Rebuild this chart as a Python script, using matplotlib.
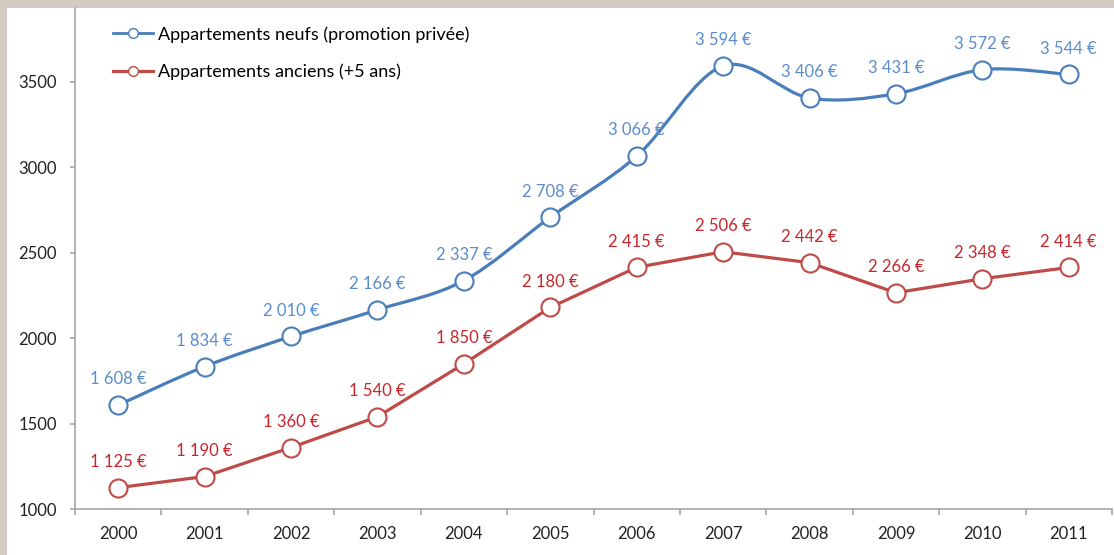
import matplotlib
matplotlib.use('Agg')
import matplotlib.pyplot as plt
from matplotlib.path import Path
from matplotlib.patches import PathPatch, Rectangle
from matplotlib.lines import Line2D

years = ['2000', '2001', '2002', '2003', '2004', '2005',
         '2006', '2007', '2008', '2009', '2010', '2011']
neufs = [1608, 1834, 2010, 2166, 2337, 2708, 3066, 3594, 3406, 3431, 3572, 3544]
anciens = [1125, 1190, 1360, 1540, 1850, 2180, 2415, 2506, 2442, 2266, 2348, 2414]
label_neufs = 'Appartements neufs (promotion privée)'
label_anciens = 'Appartements anciens (+5 ans)'

blue = '#4a7ebb'
blue_txt = '#5b8dcc'
red = '#be4b48'
red_txt = '#c8262c'


def fmt(v):
    return f'{v:,}'.replace(',', ' ') + ' €'


def smooth_path(xs, ys):
    # Excel-like smoothed line: cubic bezier through every point
    verts = [(xs[0], ys[0])]
    codes = [Path.MOVETO]
    n = len(xs)
    for i in range(n - 1):
        x0, y0 = (xs[i - 1], ys[i - 1]) if i > 0 else (xs[i], ys[i])
        x1, y1 = xs[i], ys[i]
        x2, y2 = xs[i + 1], ys[i + 1]
        x3, y3 = (xs[i + 2], ys[i + 2]) if i + 2 < n else (x2, y2)
        c1 = (x1 + (x2 - x0) / 6, y1 + (y2 - y0) / 6)
        c2 = (x2 - (x3 - x1) / 6, y2 - (y3 - y1) / 6)
        verts += [c1, c2, (x2, y2)]
        codes += [Path.CURVE4] * 3
    return Path(verts, codes)


plt.rcParams['font.family'] = ['Lato', 'DejaVu Sans']

fig = plt.figure(figsize=(11.14, 5.55), dpi=100)
fig.patch.set_facecolor('#d4ccc0')
fig.patches.append(Rectangle((7 / 1114, 0), 1, 1 - 8 / 555, transform=fig.transFigure,
                             facecolor='white', edgecolor='none', zorder=-5))
ax = fig.add_axes([75 / 1114, 1 - 509 / 555, (1112 - 75) / 1114, (509 - 8) / 555])
ax.set_zorder(2)
ax.set_facecolor('none')

xs = list(range(len(years)))
# blue series is smoothed, red one uses straight segments
ax.add_patch(PathPatch(smooth_path(xs, neufs), facecolor='none', edgecolor=blue,
                       lw=2.3, zorder=2, capstyle='round'))
ax.plot(xs, anciens, color=red, lw=2.3, zorder=2, solid_joinstyle='round')
for vals, col, tcol in [(neufs, blue, blue_txt), (anciens, red, red_txt)]:
    ax.plot(xs, vals, ls='none', marker='o', ms=13, mfc='white', mec=col,
            mew=1.5, zorder=3)
    for x, v in zip(xs, vals):
        ax.annotate(fmt(v), (x, v), xytext=(0, 18.5), textcoords='offset points',
                    ha='center', va='center', color=tcol, fontsize=12)

ax.set_xlim(-0.5, 11.5)
ax.set_ylim(1000, 3933)
ax.set_yticks([1000, 1500, 2000, 2500, 3000, 3500])
ax.set_xticks(xs)
ax.set_xticklabels(years)
ax.set_xticks([i - 0.5 for i in range(13)], minor=True)
ax.tick_params(axis='x', which='major', length=0, pad=12, labelsize=12, colors='#222222')
ax.tick_params(axis='x', which='minor', length=4.3, color='#a6a6a6', width=1.2)
ax.tick_params(axis='y', length=3.6, color='#a6a6a6', width=1.2, pad=9.4,
               labelsize=12, labelcolor='#222222')
for s in ['top', 'right']:
    ax.spines[s].set_visible(False)
for s in ['left', 'bottom']:
    ax.spines[s].set_color('#a6a6a6')
    ax.spines[s].set_linewidth(1.2)

handles = [Line2D([], [], color=blue, lw=2, marker='o', ms=7, mfc='white', mec=blue, mew=1),
           Line2D([], [], color=red, lw=2.3, marker='o', ms=7, mfc='white', mec=red, mew=1)]
ax.legend(handles, [label_neufs, label_anciens], loc='upper left',
          bbox_to_anchor=(113 / 1114, 1 - 26 / 555), bbox_transform=fig.transFigure,
          frameon=False, fontsize=13, borderpad=0, borderaxespad=0,
          handlelength=2.2, handletextpad=0.3, labelspacing=1.15)

fig.savefig('out.png', dpi=100)
plt.close(fig)
